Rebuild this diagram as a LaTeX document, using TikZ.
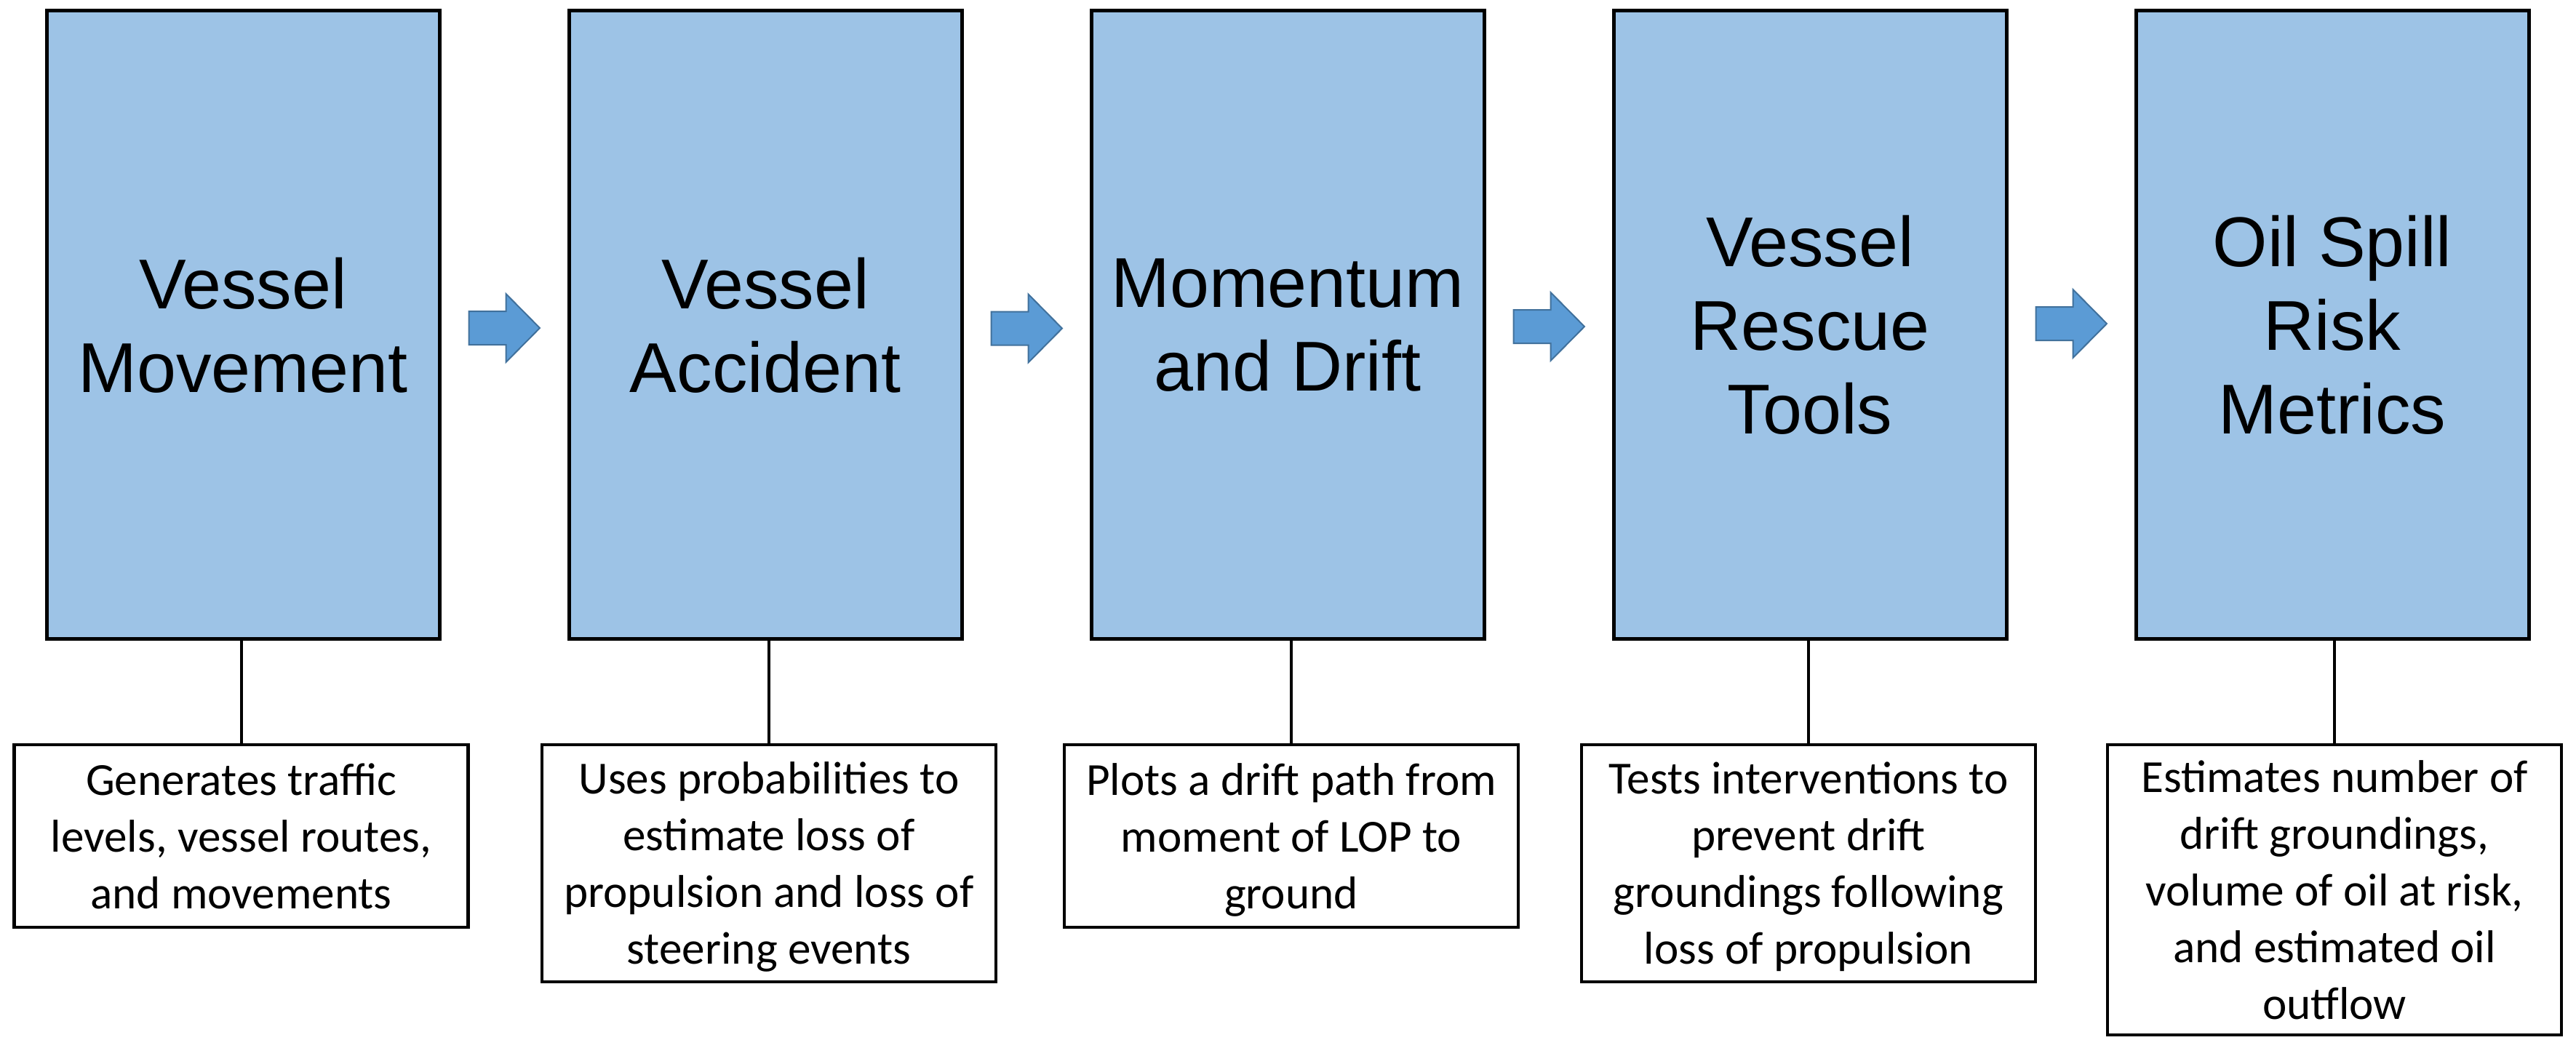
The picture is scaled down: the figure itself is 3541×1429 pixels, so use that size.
\documentclass[tikz,border=0pt]{standalone}
\usepackage{fontspec}
\setmainfont{Carlito}
\newfontfamily\titlefont{Liberation Sans}
\usetikzlibrary{calc}
\definecolor{boxblue}{HTML}{9DC3E6}
\definecolor{arrowfill}{HTML}{5B9BD5}
\definecolor{arrowline}{HTML}{41719C}
\begin{document}
\begin{tikzpicture}[x=0.25pt,y=-0.25pt,
  stage/.style={draw=black, line width=1.25pt, fill=boxblue, minimum width=135pt,
    minimum height=216pt, inner sep=0pt, align=center,
    font=\titlefont\fontsize{24.25}{28.75}\selectfont, text depth=0pt},
  desc/.style={draw=black, line width=1.1pt, fill=white, minimum width=156pt,
    inner sep=0pt, align=center, font=\fontsize{15.8}{19.5}\selectfont, text depth=0pt},
  link/.style={line width=1pt},
  blockarrow/.style={fill=arrowfill, draw=arrowline, line width=0.5pt, line join=miter}]
\useasboundingbox (0,0) rectangle (3541,1429);

\node[stage] (s1) at (334,446.5) {Vessel\\Movement};
\node[stage] (s2) at (1052,446.5) {Vessel\\Accident};
\node[stage] (s3) at (1770,446.5) {Momentum\\and Drift};
\node[stage] (s4) at (2488,446.5) {Vessel\\Rescue\\Tools};
\node[stage] (s5) at (3206,446.5) {Oil Spill\\Risk\\Metrics};

\node[desc, minimum height=62.75pt] (d1) at (331.5,1149.5) {Generates traffic\\levels, vessel routes,\\and movements};
\node[desc, minimum height=81.5pt] (d2) at (1057,1187) {Uses probabilities to\\estimate loss of\\propulsion and loss of\\steering events};
\node[desc, minimum height=62.75pt] (d3) at (1775,1149.5) {Plots a drift path from\\moment of LOP to\\ground};
\node[desc, minimum height=81.5pt] (d4) at (2486,1187) {Tests interventions to\\prevent drift\\groundings following\\loss of propulsion};
\node[desc, minimum height=99.75pt] (d5) at (3209,1223.5) {Estimates number of\\drift groundings,\\volume of oil at risk,\\and estimated oil\\outflow};

\foreach \i in {1,...,5} {
  \draw[link] (d\i.north) -- (d\i.north |- s\i.south);
}

\foreach \a/\b/\dy in {s1/s2/4.5, s2/s3/5, s3/s4/2.5, s4/s5/-1.5} {
  \draw[blockarrow] ($(\a.east)!0.5!(\b.west)+(-48.5,\dy-23)$) -- ++(51,0) -- ++(0,-24)
    -- ++(46.5,47) -- ++(-46.5,47) -- ++(0,-24) -- ++(-51,0) -- cycle;
}
\end{tikzpicture}
\end{document}
